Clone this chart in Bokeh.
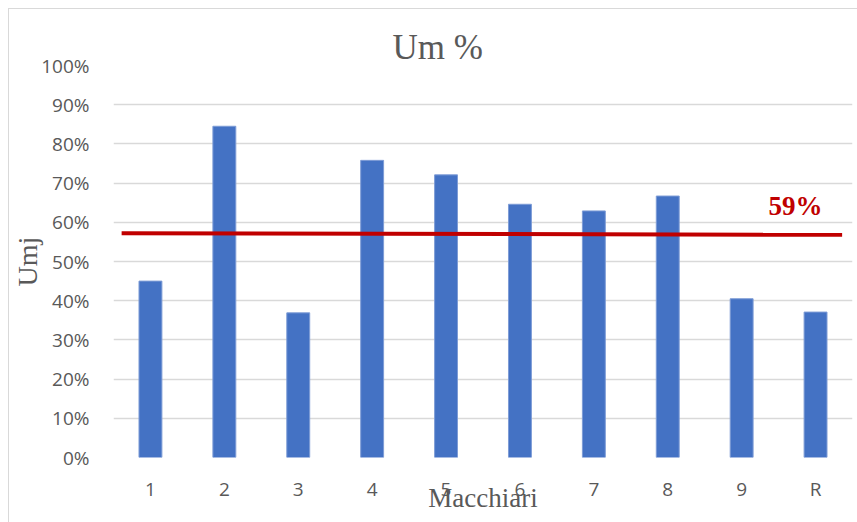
from bokeh.plotting import figure
from bokeh.models import (ColumnDataSource, Range1d, FixedTicker, NumeralTickFormatter, Label)
from bokeh.embed import file_html
from bokeh.resources import INLINE

# ---- data ----
categories = ["1", "2", "3", "4", "5", "6", "7", "8", "9", "R"]
um_values = [0.450, 0.845, 0.369, 0.758, 0.721, 0.646, 0.629, 0.667, 0.405, 0.371]
avg_line_x = [0.61, 10.36]
avg_line_y = [0.572, 0.568]
avg_label = "59%"
y_ticks = [0.0, 0.1, 0.2, 0.3, 0.4, 0.5, 0.6, 0.7, 0.8, 0.9, 1.0]
title_text = "Um %"
x_title = "Macchiari"
y_title = "Umj"

positions = list(range(1, len(categories) + 1))
src = ColumnDataSource(dict(x=positions, top=um_values, cat=categories))

p = figure(
    frame_width=739, frame_height=392,
    min_border_left=104, min_border_top=56, min_border_right=5, min_border_bottom=65,
    x_range=Range1d(0.5, len(categories) + 0.5), y_range=Range1d(0, 1),
    output_backend="svg", toolbar_location=None,
    margin=(8, 0, 0, 8),
    styles={"border-top": "1px solid #d9d9d9", "border-left": "1px solid #d9d9d9"},
    title=title_text,
)
p.outline_line_color = None
p.background_fill_color = "white"
p.border_fill_color = "white"

p.title.text_font = "Liberation Serif"
p.title.text_font_size = "35px"
p.title.text_font_style = "normal"
p.title.text_color = "#595959"
p.title.align = "left"
p.title.offset = 279
p.title.standoff = -3

p.vbar(x="x", top="top", width=0.31, source=src,
       fill_color="#4472C4", line_color="#7E9CD6", line_width=1)

p.line(avg_line_x, avg_line_y, line_color="#C00000", line_width=4)

# axes
p.xaxis.ticker = FixedTicker(ticks=positions)
p.xaxis.major_label_overrides = {i: c for i, c in zip(positions, categories)}
p.yaxis.ticker = FixedTicker(ticks=y_ticks)
p.yaxis.formatter = NumeralTickFormatter(format="0%")
for ax in (p.xaxis, p.yaxis):
    ax.axis_line_color = None
    ax.major_tick_line_color = None
    ax.minor_tick_line_color = None
    ax.major_label_text_font = "Open Sans"
    ax.major_label_text_font_size = "19px"
    ax.major_label_text_color = "#595959"
    ax.axis_label_text_font = "Liberation Serif"
    ax.axis_label_text_font_style = "normal"
    ax.axis_label_text_color = "#595959"
p.yaxis.major_label_standoff = 18
p.xaxis.major_label_standoff = 12

p.xaxis.axis_label = x_title
p.xaxis.axis_label_text_font_size = "27px"
p.xaxis.axis_label_standoff = -22
p.yaxis.axis_label = y_title
p.yaxis.axis_label_text_font_size = "28px"
p.yaxis.axis_label_standoff = -5

p.xgrid.grid_line_color = None
p.ygrid.ticker = FixedTicker(ticks=y_ticks)
p.ygrid.grid_line_color = "#d9d9d9"
p.ygrid.grid_line_width = 1.5

# reference-line value label (inside the plot frame)
p.add_layout(Label(x=655, y=252, x_units="screen", y_units="screen", text=avg_label,
                   text_font="Liberation Serif", text_font_size="27px", text_font_style="bold",
                   text_color="#C00000", text_align="left", text_baseline="alphabetic"))

open("out.html", "w").write(file_html(p, INLINE))
